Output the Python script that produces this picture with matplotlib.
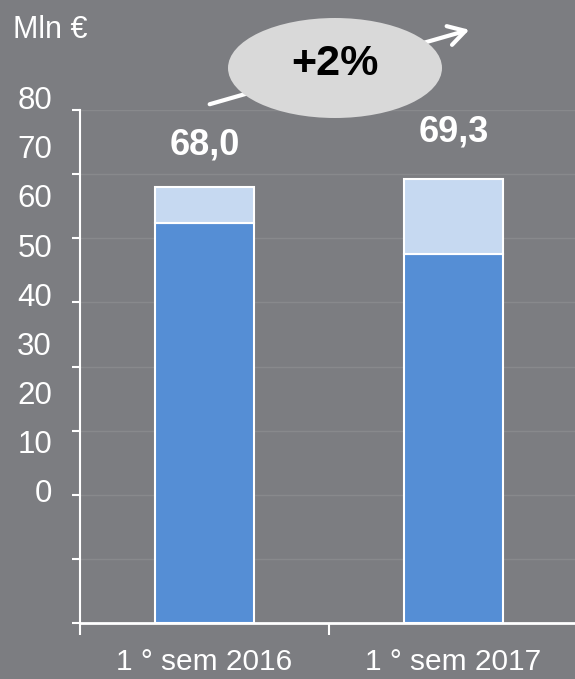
import matplotlib
matplotlib.use("Agg")
import matplotlib.pyplot as plt
from matplotlib.patches import Ellipse, FancyArrowPatch
from matplotlib.transforms import blended_transform_factory

plt.rcParams['font.family'] = ['Liberation Sans', 'DejaVu Sans']

# DATA
periods = ["1 ° sem 2016", "1 ° sem 2017"]
base = [62.4, 57.6]
extra = [5.6, 11.7]
totals = ["68,0", "69,3"]
yticks = [0, 10, 20, 30, 40, 50, 60, 70, 80]
growth = "+2%"
unit = "Mln €"

BG = "#7c7d81"
DARK = "#558ed5"
LIGHT = "#c6d9f1"

fig = plt.figure(figsize=(5.75, 6.79), dpi=100, facecolor=BG)
ax = fig.add_axes([80/575, 56/679, 498/575, 513/679])
ax.set_facecolor(BG)

x = range(len(periods))
ax.bar(x, base, width=0.4, color=DARK, edgecolor="white", linewidth=1.5, zorder=3)
ax.bar(x, extra, bottom=base, width=0.4, color=LIGHT, edgecolor="white", linewidth=1.5, zorder=3)

ax.set_xlim(-0.5, 1.5)
ax.set_ylim(0, 80)

# faint grid
for v in yticks[1:]:
    ax.axhline(v, color="#88898c", lw=1, zorder=1)

ax.spines['top'].set_visible(False)
ax.spines['right'].set_visible(False)
ax.spines['left'].set_color("white")
ax.spines['bottom'].set_color("white")
ax.spines['left'].set_linewidth(1.5)
ax.spines['bottom'].set_linewidth(2)

ax.set_yticks(yticks)
ax.set_yticklabels([])
ax.tick_params(axis='y', direction='out', length=5.8, width=1.5, color='white')
ax.set_xticks([-0.5, 0.5, 1.5])
ax.set_xticklabels([])
ax.tick_params(axis='x', direction='out', length=8.6, width=1.5, color='white')

# shifted tick labels, as in the original slide
tr = blended_transform_factory(fig.transFigure, ax.transData)
for v in yticks:
    fig.text(52/575, 20.1 + v*0.766, str(v), transform=tr, ha='right', va='center',
             color='white', fontsize=22.5)

for i, p in enumerate(periods):
    ax.text(i, -6.1, p, ha='center', va='center', color='white', fontsize=21.5, clip_on=False)

label_y = [74.6, 76.6]
for i, t in enumerate(totals):
    ax.text(i, label_y[i], t, ha='center', va='center', color='white',
            fontsize=26, fontweight='bold')

fig.text(13/575, 1 - 30/679, unit, ha='left', va='center', color='white', fontsize=22)

arrow = FancyArrowPatch((207/575, 1 - 105/679), (472/575, 1 - 29/679),
                        transform=fig.transFigure, arrowstyle='->,head_length=12,head_width=7',
                        color='white', lw=3)
fig.add_artist(arrow)
ell = Ellipse((335/575, 1 - 68/679), 214/575, 100/679, transform=fig.transFigure,
              facecolor="#d9d9d9", edgecolor='none')
fig.add_artist(ell)
fig.text(335/575, 1 - 64/679, growth, ha='center', va='center', color='black',
         fontsize=31, fontweight='bold')

fig.savefig("out.png", dpi=100, facecolor=BG)
